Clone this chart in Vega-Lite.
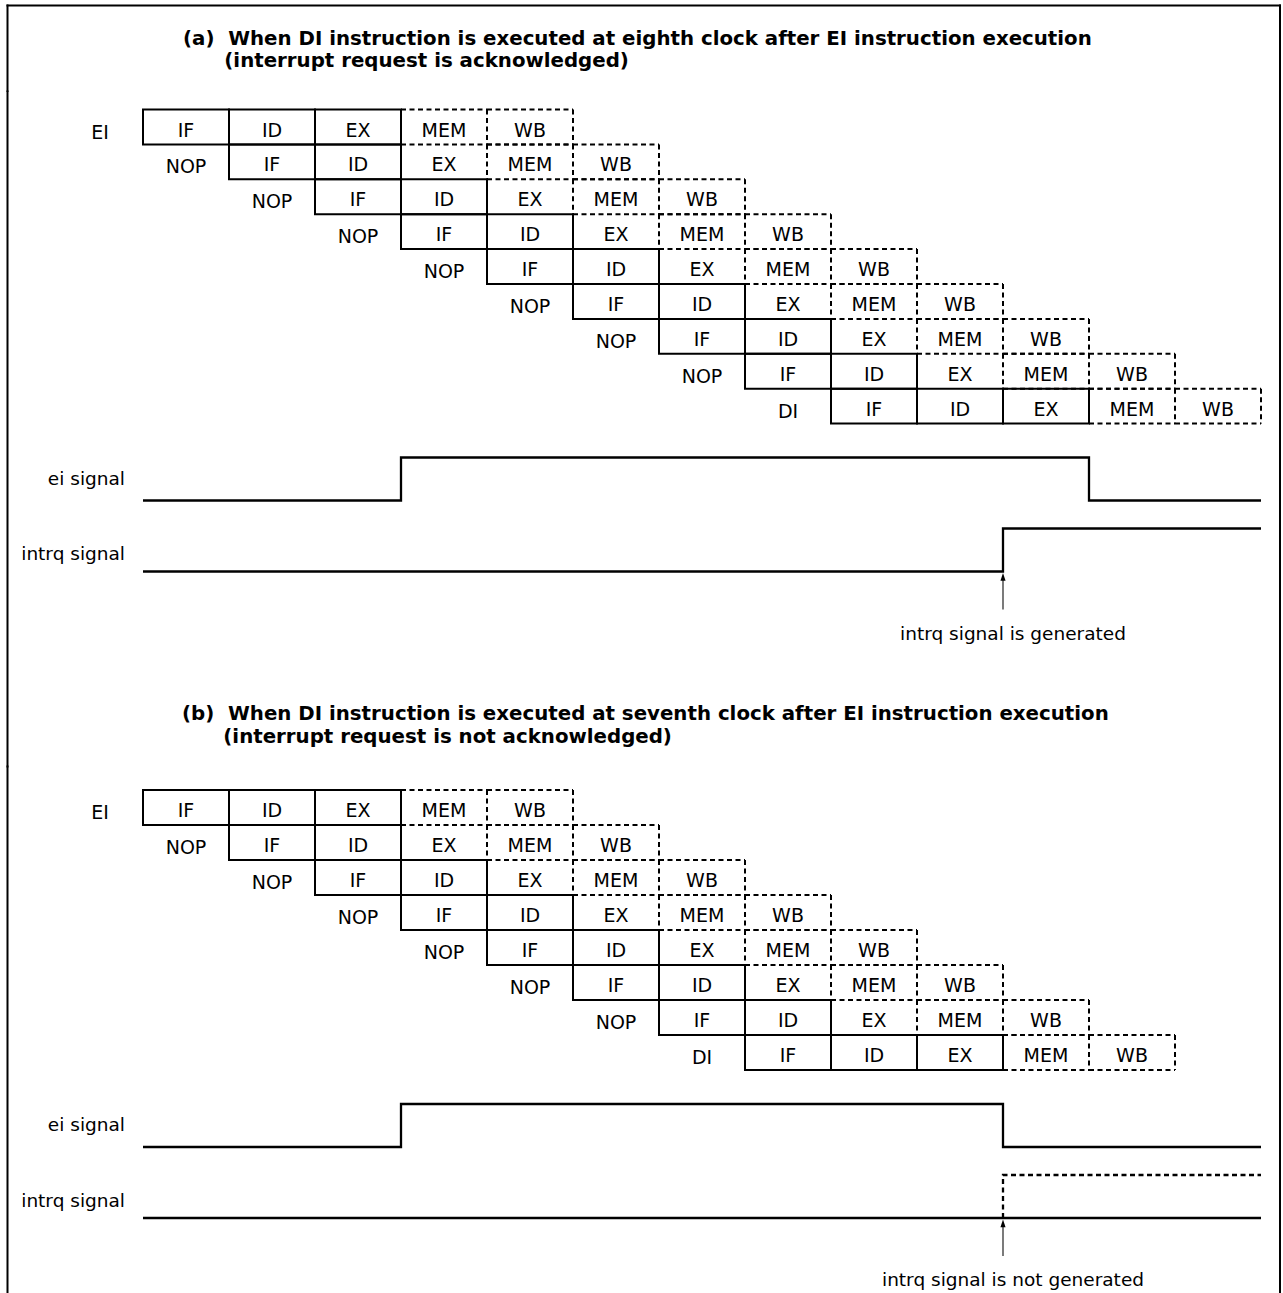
{
  "$schema": "https://vega.github.io/schema/vega-lite/v6.json",
  "background": "white",
  "padding": {"top": 3.5, "left": 0, "right": 0, "bottom": 0},
  "spacing": 0,
  "bounds": "flush",
  "config": {"view": {"stroke": null}},
  "datasets": {
    "cells": [
      {"p":"a","i":"EI","r0":0,"r1":1,"s":"IF","t0":0,"t1":1},
      {"p":"a","i":"EI","r0":0,"r1":1,"s":"ID","t0":1,"t1":2},
      {"p":"a","i":"EI","r0":0,"r1":1,"s":"EX","t0":2,"t1":3},
      {"p":"a","i":"EI","r0":0,"r1":1,"s":"MEM","t0":3,"t1":4},
      {"p":"a","i":"EI","r0":0,"r1":1,"s":"WB","t0":4,"t1":5},
      {"p":"a","i":"NOP","r0":1,"r1":2,"s":"IF","t0":1,"t1":2},
      {"p":"a","i":"NOP","r0":1,"r1":2,"s":"ID","t0":2,"t1":3},
      {"p":"a","i":"NOP","r0":1,"r1":2,"s":"EX","t0":3,"t1":4},
      {"p":"a","i":"NOP","r0":1,"r1":2,"s":"MEM","t0":4,"t1":5},
      {"p":"a","i":"NOP","r0":1,"r1":2,"s":"WB","t0":5,"t1":6},
      {"p":"a","i":"NOP","r0":2,"r1":3,"s":"IF","t0":2,"t1":3},
      {"p":"a","i":"NOP","r0":2,"r1":3,"s":"ID","t0":3,"t1":4},
      {"p":"a","i":"NOP","r0":2,"r1":3,"s":"EX","t0":4,"t1":5},
      {"p":"a","i":"NOP","r0":2,"r1":3,"s":"MEM","t0":5,"t1":6},
      {"p":"a","i":"NOP","r0":2,"r1":3,"s":"WB","t0":6,"t1":7},
      {"p":"a","i":"NOP","r0":3,"r1":4,"s":"IF","t0":3,"t1":4},
      {"p":"a","i":"NOP","r0":3,"r1":4,"s":"ID","t0":4,"t1":5},
      {"p":"a","i":"NOP","r0":3,"r1":4,"s":"EX","t0":5,"t1":6},
      {"p":"a","i":"NOP","r0":3,"r1":4,"s":"MEM","t0":6,"t1":7},
      {"p":"a","i":"NOP","r0":3,"r1":4,"s":"WB","t0":7,"t1":8},
      {"p":"a","i":"NOP","r0":4,"r1":5,"s":"IF","t0":4,"t1":5},
      {"p":"a","i":"NOP","r0":4,"r1":5,"s":"ID","t0":5,"t1":6},
      {"p":"a","i":"NOP","r0":4,"r1":5,"s":"EX","t0":6,"t1":7},
      {"p":"a","i":"NOP","r0":4,"r1":5,"s":"MEM","t0":7,"t1":8},
      {"p":"a","i":"NOP","r0":4,"r1":5,"s":"WB","t0":8,"t1":9},
      {"p":"a","i":"NOP","r0":5,"r1":6,"s":"IF","t0":5,"t1":6},
      {"p":"a","i":"NOP","r0":5,"r1":6,"s":"ID","t0":6,"t1":7},
      {"p":"a","i":"NOP","r0":5,"r1":6,"s":"EX","t0":7,"t1":8},
      {"p":"a","i":"NOP","r0":5,"r1":6,"s":"MEM","t0":8,"t1":9},
      {"p":"a","i":"NOP","r0":5,"r1":6,"s":"WB","t0":9,"t1":10},
      {"p":"a","i":"NOP","r0":6,"r1":7,"s":"IF","t0":6,"t1":7},
      {"p":"a","i":"NOP","r0":6,"r1":7,"s":"ID","t0":7,"t1":8},
      {"p":"a","i":"NOP","r0":6,"r1":7,"s":"EX","t0":8,"t1":9},
      {"p":"a","i":"NOP","r0":6,"r1":7,"s":"MEM","t0":9,"t1":10},
      {"p":"a","i":"NOP","r0":6,"r1":7,"s":"WB","t0":10,"t1":11},
      {"p":"a","i":"NOP","r0":7,"r1":8,"s":"IF","t0":7,"t1":8},
      {"p":"a","i":"NOP","r0":7,"r1":8,"s":"ID","t0":8,"t1":9},
      {"p":"a","i":"NOP","r0":7,"r1":8,"s":"EX","t0":9,"t1":10},
      {"p":"a","i":"NOP","r0":7,"r1":8,"s":"MEM","t0":10,"t1":11},
      {"p":"a","i":"NOP","r0":7,"r1":8,"s":"WB","t0":11,"t1":12},
      {"p":"a","i":"DI","r0":8,"r1":9,"s":"IF","t0":8,"t1":9},
      {"p":"a","i":"DI","r0":8,"r1":9,"s":"ID","t0":9,"t1":10},
      {"p":"a","i":"DI","r0":8,"r1":9,"s":"EX","t0":10,"t1":11},
      {"p":"a","i":"DI","r0":8,"r1":9,"s":"MEM","t0":11,"t1":12},
      {"p":"a","i":"DI","r0":8,"r1":9,"s":"WB","t0":12,"t1":13},
      {"p":"b","i":"EI","r0":0,"r1":1,"s":"IF","t0":0,"t1":1},
      {"p":"b","i":"EI","r0":0,"r1":1,"s":"ID","t0":1,"t1":2},
      {"p":"b","i":"EI","r0":0,"r1":1,"s":"EX","t0":2,"t1":3},
      {"p":"b","i":"EI","r0":0,"r1":1,"s":"MEM","t0":3,"t1":4},
      {"p":"b","i":"EI","r0":0,"r1":1,"s":"WB","t0":4,"t1":5},
      {"p":"b","i":"NOP","r0":1,"r1":2,"s":"IF","t0":1,"t1":2},
      {"p":"b","i":"NOP","r0":1,"r1":2,"s":"ID","t0":2,"t1":3},
      {"p":"b","i":"NOP","r0":1,"r1":2,"s":"EX","t0":3,"t1":4},
      {"p":"b","i":"NOP","r0":1,"r1":2,"s":"MEM","t0":4,"t1":5},
      {"p":"b","i":"NOP","r0":1,"r1":2,"s":"WB","t0":5,"t1":6},
      {"p":"b","i":"NOP","r0":2,"r1":3,"s":"IF","t0":2,"t1":3},
      {"p":"b","i":"NOP","r0":2,"r1":3,"s":"ID","t0":3,"t1":4},
      {"p":"b","i":"NOP","r0":2,"r1":3,"s":"EX","t0":4,"t1":5},
      {"p":"b","i":"NOP","r0":2,"r1":3,"s":"MEM","t0":5,"t1":6},
      {"p":"b","i":"NOP","r0":2,"r1":3,"s":"WB","t0":6,"t1":7},
      {"p":"b","i":"NOP","r0":3,"r1":4,"s":"IF","t0":3,"t1":4},
      {"p":"b","i":"NOP","r0":3,"r1":4,"s":"ID","t0":4,"t1":5},
      {"p":"b","i":"NOP","r0":3,"r1":4,"s":"EX","t0":5,"t1":6},
      {"p":"b","i":"NOP","r0":3,"r1":4,"s":"MEM","t0":6,"t1":7},
      {"p":"b","i":"NOP","r0":3,"r1":4,"s":"WB","t0":7,"t1":8},
      {"p":"b","i":"NOP","r0":4,"r1":5,"s":"IF","t0":4,"t1":5},
      {"p":"b","i":"NOP","r0":4,"r1":5,"s":"ID","t0":5,"t1":6},
      {"p":"b","i":"NOP","r0":4,"r1":5,"s":"EX","t0":6,"t1":7},
      {"p":"b","i":"NOP","r0":4,"r1":5,"s":"MEM","t0":7,"t1":8},
      {"p":"b","i":"NOP","r0":4,"r1":5,"s":"WB","t0":8,"t1":9},
      {"p":"b","i":"NOP","r0":5,"r1":6,"s":"IF","t0":5,"t1":6},
      {"p":"b","i":"NOP","r0":5,"r1":6,"s":"ID","t0":6,"t1":7},
      {"p":"b","i":"NOP","r0":5,"r1":6,"s":"EX","t0":7,"t1":8},
      {"p":"b","i":"NOP","r0":5,"r1":6,"s":"MEM","t0":8,"t1":9},
      {"p":"b","i":"NOP","r0":5,"r1":6,"s":"WB","t0":9,"t1":10},
      {"p":"b","i":"NOP","r0":6,"r1":7,"s":"IF","t0":6,"t1":7},
      {"p":"b","i":"NOP","r0":6,"r1":7,"s":"ID","t0":7,"t1":8},
      {"p":"b","i":"NOP","r0":6,"r1":7,"s":"EX","t0":8,"t1":9},
      {"p":"b","i":"NOP","r0":6,"r1":7,"s":"MEM","t0":9,"t1":10},
      {"p":"b","i":"NOP","r0":6,"r1":7,"s":"WB","t0":10,"t1":11},
      {"p":"b","i":"DI","r0":7,"r1":8,"s":"IF","t0":7,"t1":8},
      {"p":"b","i":"DI","r0":7,"r1":8,"s":"ID","t0":8,"t1":9},
      {"p":"b","i":"DI","r0":7,"r1":8,"s":"EX","t0":9,"t1":10},
      {"p":"b","i":"DI","r0":7,"r1":8,"s":"MEM","t0":10,"t1":11},
      {"p":"b","i":"DI","r0":7,"r1":8,"s":"WB","t0":11,"t1":12}
    ],
    "signals": [
      {"p":"a","sig":"ei","name":"ei signal","state":"actual","k":0,"t":0,"level":0},
      {"p":"a","sig":"ei","name":"ei signal","state":"actual","k":1,"t":3,"level":1},
      {"p":"a","sig":"ei","name":"ei signal","state":"actual","k":2,"t":11,"level":0},
      {"p":"a","sig":"ei","name":"ei signal","state":"actual","k":3,"t":13,"level":0},
      {"p":"a","sig":"intrq","name":"intrq signal","state":"actual","k":0,"t":0,"level":0},
      {"p":"a","sig":"intrq","name":"intrq signal","state":"actual","k":1,"t":10,"level":1},
      {"p":"a","sig":"intrq","name":"intrq signal","state":"actual","k":2,"t":13,"level":1},
      {"p":"b","sig":"ei","name":"ei signal","state":"actual","k":0,"t":0,"level":0},
      {"p":"b","sig":"ei","name":"ei signal","state":"actual","k":1,"t":3,"level":1},
      {"p":"b","sig":"ei","name":"ei signal","state":"actual","k":2,"t":10,"level":0},
      {"p":"b","sig":"ei","name":"ei signal","state":"actual","k":3,"t":13,"level":0},
      {"p":"b","sig":"intrq","name":"intrq signal","state":"actual","k":0,"t":0,"level":0},
      {"p":"b","sig":"intrq","name":"intrq signal","state":"actual","k":1,"t":13,"level":0},
      {"p":"b","sig":"intrq","name":"intrq signal","state":"not generated","k":0,"t":10,"level":0},
      {"p":"b","sig":"intrq","name":"intrq signal","state":"not generated","k":1,"t":10,"level":1},
      {"p":"b","sig":"intrq","name":"intrq signal","state":"not generated","k":2,"t":13,"level":1}
    ],
    "notes": [
      {"p":"a","t":10,"text":"intrq signal is generated"},
      {"p":"b","t":10,"text":"intrq signal is not generated"}
    ]
  },
  "vconcat": [
    {
      "width": 1283,
      "height": 85.5,
      "data": {"values": [{}]},
      "layer": [
        {"mark": {"type":"rule","color":"black","strokeWidth":2,"strokeCap":"square"},
         "encoding": {"x":{"datum":-1.5756,"type":"quantitative","scale":{"domain":[-1.6628,13.2558],"nice":false,"zero":false},"axis":null},"x2":{"datum":13.2209},"y":{"datum":1,"type":"quantitative","scale":{"domain":[0,1]},"axis":null}}},
        {"mark": {"type":"rule","color":"black","strokeWidth":2,"strokeCap":"square"},
         "encoding": {"x":{"datum":-1.5756,"type":"quantitative","scale":{"domain":[-1.6628,13.2558],"nice":false,"zero":false},"axis":null},"y":{"datum":0,"type":"quantitative","scale":{"domain":[0,1]},"axis":null},"y2":{"datum":1}}},
        {"mark": {"type":"rule","color":"black","strokeWidth":2,"strokeCap":"square"},
         "encoding": {"x":{"datum":13.2209,"type":"quantitative","scale":{"domain":[-1.6628,13.2558],"nice":false,"zero":false},"axis":null},"y":{"datum":0,"type":"quantitative","scale":{"domain":[0,1]},"axis":null},"y2":{"datum":1}}}
      ]
    },
    {
      "width": 1283,
      "height": 675,
      "title": {"text": ["(a)\u00a0 When DI instruction is executed at eighth clock after EI instruction execution", "\u200b\u00a0\u00a0\u00a0\u00a0\u00a0\u00a0(interrupt request is acknowledged)"], "anchor":"start","frame":"group","dx":183,"offset":3,"baseline":"alphabetic","font":"DejaVu Sans","fontSize":19.8,"fontWeight":"bold","lineHeight":22.5,"color":"black"},
      "resolve": {"scale": {"y": "independent"}},
      "layer": [
        {"data":{"name":"cells"},
         "transform":[{"filter":"datum.p=='a' && (datum.s=='IF' || datum.s=='ID' || (datum.s=='EX' && datum.i!='NOP'))"}],
         "mark":{"type":"rect","filled":false,"stroke":"black","strokeWidth":2},
         "encoding":{"x":{"field":"t0","type":"quantitative","scale":{"domain":[-1.6628,13.2558],"nice":false,"zero":false},"axis":null},"x2":{"field":"t1"},"y":{"field":"r0","type":"quantitative","scale":{"domain":[0,9],"range":[18,332.1],"nice":false,"zero":false},"axis":null},"y2":{"field":"r1"}}},
        {"data":{"name":"cells"},
         "transform":[{"filter":"datum.p=='a' && (datum.s=='MEM' || datum.s=='WB')"}],
         "mark":{"type":"rule","color":"black","strokeWidth":2,"strokeDash":[5,3.5]},
         "encoding":{"x":{"field":"t0","type":"quantitative","scale":{"domain":[-1.6628,13.2558],"nice":false,"zero":false},"axis":null},"x2":{"field":"t1"},"y":{"field":"r0","type":"quantitative","scale":{"domain":[0,9],"range":[18,332.1],"nice":false,"zero":false},"axis":null}}},
        {"data":{"name":"cells"},
         "transform":[{"filter":"datum.p=='a' && (datum.s=='MEM' || datum.s=='WB')"}],
         "mark":{"type":"rule","color":"black","strokeWidth":2,"strokeDash":[5,3.5]},
         "encoding":{"x":{"field":"t0","type":"quantitative","scale":{"domain":[-1.6628,13.2558],"nice":false,"zero":false},"axis":null},"x2":{"field":"t1"},"y":{"field":"r1","type":"quantitative","scale":{"domain":[0,9],"range":[18,332.1],"nice":false,"zero":false},"axis":null}}},
        {"data":{"name":"cells"},
         "transform":[{"filter":"datum.p=='a' && (datum.s=='MEM' || datum.s=='WB')"}],
         "mark":{"type":"rule","color":"black","strokeWidth":2,"strokeDash":[5,3.5]},
         "encoding":{"x":{"field":"t1","type":"quantitative","scale":{"domain":[-1.6628,13.2558],"nice":false,"zero":false},"axis":null},"y":{"field":"r0","type":"quantitative","scale":{"domain":[0,9],"range":[18,332.1],"nice":false,"zero":false},"axis":null},"y2":{"field":"r1"}}},
        {"data":{"name":"cells"},
         "transform":[{"filter":"datum.p=='a' && datum.s=='MEM'"}],
         "mark":{"type":"rule","color":"black","strokeWidth":2,"strokeDash":[5,3.5]},
         "encoding":{"x":{"field":"t0","type":"quantitative","scale":{"domain":[-1.6628,13.2558],"nice":false,"zero":false},"axis":null},"y":{"field":"r0","type":"quantitative","scale":{"domain":[0,9],"range":[18,332.1],"nice":false,"zero":false},"axis":null},"y2":{"field":"r1"}}},
        {"data":{"name":"cells"},
         "transform":[{"filter":"datum.p=='a'"}],
         "mark":{"type":"text","align":"center","baseline":"middle","dx":43,"dy":21,"font":"DejaVu Sans","fontSize":19,"color":"black"},
         "encoding":{"x":{"field":"t0","type":"quantitative","scale":{"domain":[-1.6628,13.2558],"nice":false,"zero":false},"axis":null},"y":{"field":"r0","type":"quantitative","scale":{"domain":[0,9],"range":[18,332.1],"nice":false,"zero":false},"axis":null},"text":{"field":"s"}}},
        {"data":{"name":"cells"},
         "transform":[{"filter":"datum.p=='a' && datum.s=='IF'"}],
         "mark":{"type":"text","align":"center","baseline":"middle","dx":-43,"dy":23,"font":"DejaVu Sans","fontSize":19,"color":"black"},
         "encoding":{"x":{"field":"t0","type":"quantitative","scale":{"domain":[-1.6628,13.2558],"nice":false,"zero":false},"axis":null},"y":{"field":"r0","type":"quantitative","scale":{"domain":[0,9],"range":[18,332.1],"nice":false,"zero":false},"axis":null},"text":{"field":"i"}}},
        {"data":{"name":"signals"},
         "transform":[{"filter":"datum.p=='a' && datum.sig=='ei'"}],
         "mark":{"type":"line","interpolate":"step-after","color":"black","strokeWidth":2.3},
         "encoding":{"x":{"field":"t","type":"quantitative","scale":{"domain":[-1.6628,13.2558],"nice":false,"zero":false},"axis":null},"y":{"field":"level","type":"quantitative","scale":{"domain":[0,1],"range":[409,366],"nice":false,"zero":false},"axis":null},"order":{"field":"k"}}},
        {"data":{"name":"signals"},
         "transform":[{"filter":"datum.p=='a' && datum.sig=='ei' && datum.k==0 && datum.t==0"}],
         "mark":{"type":"text","align":"right","baseline":"alphabetic","dx":-18,"dy":5.5,"font":"DejaVu Sans","fontSize":18.5,"color":"black"},
         "encoding":{"x":{"field":"t","type":"quantitative","scale":{"domain":[-1.6628,13.2558],"nice":false,"zero":false},"axis":null},"y":{"datum":0.5,"type":"quantitative","scale":{"domain":[0,1],"range":[409,366],"nice":false,"zero":false},"axis":null},"text":{"field":"name"}}},
        {"data":{"name":"signals"},
         "transform":[{"filter":"datum.p=='a' && datum.sig=='intrq'"}],
         "mark":{"type":"line","interpolate":"step-after","color":"black","strokeWidth":2.3},
         "encoding":{"x":{"field":"t","type":"quantitative","scale":{"domain":[-1.6628,13.2558],"nice":false,"zero":false},"axis":null},"y":{"field":"level","type":"quantitative","scale":{"domain":[0,1],"range":[480,437],"nice":false,"zero":false},"axis":null},"order":{"field":"k"}}},
        {"data":{"name":"signals"},
         "transform":[{"filter":"datum.p=='a' && datum.sig=='intrq' && datum.k==0 && datum.t==0"}],
         "mark":{"type":"text","align":"right","baseline":"alphabetic","dx":-18,"dy":10,"font":"DejaVu Sans","fontSize":18.5,"color":"black"},
         "encoding":{"x":{"field":"t","type":"quantitative","scale":{"domain":[-1.6628,13.2558],"nice":false,"zero":false},"axis":null},"y":{"datum":0.5,"type":"quantitative","scale":{"domain":[0,1],"range":[480,437],"nice":false,"zero":false},"axis":null},"text":{"field":"name"}}},
        {"data":{"name":"notes"},
         "transform":[{"filter":"datum.p=='a'"}],
         "mark":{"type":"rule","color":"#222","strokeWidth":1.2},
         "encoding":{"x":{"field":"t","type":"quantitative","scale":{"domain":[-1.6628,13.2558],"nice":false,"zero":false},"axis":null},"y":{"datum":-0.884,"type":"quantitative","scale":{"domain":[0,1],"range":[480,437],"nice":false,"zero":false},"axis":null},"y2":{"datum":-0.16}}},
        {"data":{"name":"notes"},
         "transform":[{"filter":"datum.p=='a'"}],
         "mark":{"type":"point","shape":"M0,-1.3L0.85,1.3L-0.85,1.3Z","filled":true,"color":"black","size":36,"opacity":1},
         "encoding":{"x":{"field":"t","type":"quantitative","scale":{"domain":[-1.6628,13.2558],"nice":false,"zero":false},"axis":null},"y":{"datum":-0.1256,"type":"quantitative","scale":{"domain":[0,1],"range":[480,437],"nice":false,"zero":false},"axis":null}}},
        {"data":{"name":"notes"},
         "transform":[{"filter":"datum.p=='a'"}],
         "mark":{"type":"text","align":"center","baseline":"alphabetic","dx":10,"font":"DejaVu Sans","fontSize":18.5,"color":"black"},
         "encoding":{"x":{"field":"t","type":"quantitative","scale":{"domain":[-1.6628,13.2558],"nice":false,"zero":false},"axis":null},"y":{"datum":-1.588,"type":"quantitative","scale":{"domain":[0,1],"range":[480,437],"nice":false,"zero":false},"axis":null},"text":{"field":"text"}}},
        {"data":{"values":[{}]},
         "mark":{"type":"rule","color":"black","strokeWidth":2,"strokeCap":"square"},
         "encoding":{"x":{"datum":-1.5756,"type":"quantitative","scale":{"domain":[-1.6628,13.2558],"nice":false,"zero":false},"axis":null},"y":{"datum":0,"type":"quantitative","scale":{"domain":[0,1]},"axis":null},"y2":{"datum":1}}},
        {"data":{"values":[{}]},
         "mark":{"type":"rule","color":"black","strokeWidth":2,"strokeCap":"square"},
         "encoding":{"x":{"datum":13.2209,"type":"quantitative","scale":{"domain":[-1.6628,13.2558],"nice":false,"zero":false},"axis":null},"y":{"datum":0,"type":"quantitative","scale":{"domain":[0,1]},"axis":null},"y2":{"datum":1}}}
      ]
    },
    {
      "width": 1283,
      "height": 528,
      "title": {"text": ["(b)\u00a0 When DI instruction is executed at seventh clock after EI instruction execution", "\u200b\u00a0\u00a0\u00a0\u00a0\u00a0\u00a0(interrupt request is not acknowledged)"], "anchor":"start","frame":"group","dx":182,"offset":2,"baseline":"alphabetic","font":"DejaVu Sans","fontSize":19.8,"fontWeight":"bold","lineHeight":23,"color":"black"},
      "resolve": {"scale": {"y": "independent"}},
      "layer": [
        {"data":{"name":"cells"},
         "transform":[{"filter":"datum.p=='b' && (datum.s=='IF' || datum.s=='ID' || (datum.s=='EX' && datum.i!='NOP'))"}],
         "mark":{"type":"rect","filled":false,"stroke":"black","strokeWidth":2},
         "encoding":{"x":{"field":"t0","type":"quantitative","scale":{"domain":[-1.6628,13.2558],"nice":false,"zero":false},"axis":null},"x2":{"field":"t1"},"y":{"field":"r0","type":"quantitative","scale":{"domain":[0,8],"range":[23.5,303.5],"nice":false,"zero":false},"axis":null},"y2":{"field":"r1"}}},
        {"data":{"name":"cells"},
         "transform":[{"filter":"datum.p=='b' && (datum.s=='MEM' || datum.s=='WB')"}],
         "mark":{"type":"rule","color":"black","strokeWidth":2,"strokeDash":[5,3.5]},
         "encoding":{"x":{"field":"t0","type":"quantitative","scale":{"domain":[-1.6628,13.2558],"nice":false,"zero":false},"axis":null},"x2":{"field":"t1"},"y":{"field":"r0","type":"quantitative","scale":{"domain":[0,8],"range":[23.5,303.5],"nice":false,"zero":false},"axis":null}}},
        {"data":{"name":"cells"},
         "transform":[{"filter":"datum.p=='b' && (datum.s=='MEM' || datum.s=='WB')"}],
         "mark":{"type":"rule","color":"black","strokeWidth":2,"strokeDash":[5,3.5]},
         "encoding":{"x":{"field":"t0","type":"quantitative","scale":{"domain":[-1.6628,13.2558],"nice":false,"zero":false},"axis":null},"x2":{"field":"t1"},"y":{"field":"r1","type":"quantitative","scale":{"domain":[0,8],"range":[23.5,303.5],"nice":false,"zero":false},"axis":null}}},
        {"data":{"name":"cells"},
         "transform":[{"filter":"datum.p=='b' && (datum.s=='MEM' || datum.s=='WB')"}],
         "mark":{"type":"rule","color":"black","strokeWidth":2,"strokeDash":[5,3.5]},
         "encoding":{"x":{"field":"t1","type":"quantitative","scale":{"domain":[-1.6628,13.2558],"nice":false,"zero":false},"axis":null},"y":{"field":"r0","type":"quantitative","scale":{"domain":[0,8],"range":[23.5,303.5],"nice":false,"zero":false},"axis":null},"y2":{"field":"r1"}}},
        {"data":{"name":"cells"},
         "transform":[{"filter":"datum.p=='b' && datum.s=='MEM'"}],
         "mark":{"type":"rule","color":"black","strokeWidth":2,"strokeDash":[5,3.5]},
         "encoding":{"x":{"field":"t0","type":"quantitative","scale":{"domain":[-1.6628,13.2558],"nice":false,"zero":false},"axis":null},"y":{"field":"r0","type":"quantitative","scale":{"domain":[0,8],"range":[23.5,303.5],"nice":false,"zero":false},"axis":null},"y2":{"field":"r1"}}},
        {"data":{"name":"cells"},
         "transform":[{"filter":"datum.p=='b'"}],
         "mark":{"type":"text","align":"center","baseline":"middle","dx":43,"dy":21,"font":"DejaVu Sans","fontSize":19,"color":"black"},
         "encoding":{"x":{"field":"t0","type":"quantitative","scale":{"domain":[-1.6628,13.2558],"nice":false,"zero":false},"axis":null},"y":{"field":"r0","type":"quantitative","scale":{"domain":[0,8],"range":[23.5,303.5],"nice":false,"zero":false},"axis":null},"text":{"field":"s"}}},
        {"data":{"name":"cells"},
         "transform":[{"filter":"datum.p=='b' && datum.s=='IF'"}],
         "mark":{"type":"text","align":"center","baseline":"middle","dx":-43,"dy":23,"font":"DejaVu Sans","fontSize":19,"color":"black"},
         "encoding":{"x":{"field":"t0","type":"quantitative","scale":{"domain":[-1.6628,13.2558],"nice":false,"zero":false},"axis":null},"y":{"field":"r0","type":"quantitative","scale":{"domain":[0,8],"range":[23.5,303.5],"nice":false,"zero":false},"axis":null},"text":{"field":"i"}}},
        {"data":{"name":"signals"},
         "transform":[{"filter":"datum.p=='b' && datum.sig=='ei'"}],
         "mark":{"type":"line","interpolate":"step-after","color":"black","strokeWidth":2.3},
         "encoding":{"x":{"field":"t","type":"quantitative","scale":{"domain":[-1.6628,13.2558],"nice":false,"zero":false},"axis":null},"y":{"field":"level","type":"quantitative","scale":{"domain":[0,1],"range":[380.5,337.5],"nice":false,"zero":false},"axis":null},"order":{"field":"k"}}},
        {"data":{"name":"signals"},
         "transform":[{"filter":"datum.p=='b' && datum.sig=='ei' && datum.k==0 && datum.t==0"}],
         "mark":{"type":"text","align":"right","baseline":"alphabetic","dx":-18,"dy":5.5,"font":"DejaVu Sans","fontSize":18.5,"color":"black"},
         "encoding":{"x":{"field":"t","type":"quantitative","scale":{"domain":[-1.6628,13.2558],"nice":false,"zero":false},"axis":null},"y":{"datum":0.5,"type":"quantitative","scale":{"domain":[0,1],"range":[380.5,337.5],"nice":false,"zero":false},"axis":null},"text":{"field":"name"}}},
        {"data":{"name":"signals"},
         "transform":[{"filter":"datum.p=='b' && datum.sig=='intrq'"}],
         "mark":{"type":"line","interpolate":"step-after","color":"black","strokeWidth":2.3},
         "encoding":{"x":{"field":"t","type":"quantitative","scale":{"domain":[-1.6628,13.2558],"nice":false,"zero":false},"axis":null},"y":{"field":"level","type":"quantitative","scale":{"domain":[0,1],"range":[451.5,408.5],"nice":false,"zero":false},"axis":null},"order":{"field":"k"},"strokeDash":{"field":"state","type":"nominal","scale":{"domain":["actual","not generated"],"range":[[1,0],[5,3.5]]},"legend":null}}},
        {"data":{"name":"signals"},
         "transform":[{"filter":"datum.p=='b' && datum.sig=='intrq' && datum.k==0 && datum.t==0"}],
         "mark":{"type":"text","align":"right","baseline":"alphabetic","dx":-18,"dy":10,"font":"DejaVu Sans","fontSize":18.5,"color":"black"},
         "encoding":{"x":{"field":"t","type":"quantitative","scale":{"domain":[-1.6628,13.2558],"nice":false,"zero":false},"axis":null},"y":{"datum":0.5,"type":"quantitative","scale":{"domain":[0,1],"range":[451.5,408.5],"nice":false,"zero":false},"axis":null},"text":{"field":"name"}}},
        {"data":{"name":"notes"},
         "transform":[{"filter":"datum.p=='b'"}],
         "mark":{"type":"rule","color":"#222","strokeWidth":1.2},
         "encoding":{"x":{"field":"t","type":"quantitative","scale":{"domain":[-1.6628,13.2558],"nice":false,"zero":false},"axis":null},"y":{"datum":-0.884,"type":"quantitative","scale":{"domain":[0,1],"range":[451.5,408.5],"nice":false,"zero":false},"axis":null},"y2":{"datum":-0.16}}},
        {"data":{"name":"notes"},
         "transform":[{"filter":"datum.p=='b'"}],
         "mark":{"type":"point","shape":"M0,-1.3L0.85,1.3L-0.85,1.3Z","filled":true,"color":"black","size":36,"opacity":1},
         "encoding":{"x":{"field":"t","type":"quantitative","scale":{"domain":[-1.6628,13.2558],"nice":false,"zero":false},"axis":null},"y":{"datum":-0.1256,"type":"quantitative","scale":{"domain":[0,1],"range":[451.5,408.5],"nice":false,"zero":false},"axis":null}}},
        {"data":{"name":"notes"},
         "transform":[{"filter":"datum.p=='b'"}],
         "mark":{"type":"text","align":"center","baseline":"alphabetic","dx":10,"font":"DejaVu Sans","fontSize":18.5,"color":"black"},
         "encoding":{"x":{"field":"t","type":"quantitative","scale":{"domain":[-1.6628,13.2558],"nice":false,"zero":false},"axis":null},"y":{"datum":-1.588,"type":"quantitative","scale":{"domain":[0,1],"range":[451.5,408.5],"nice":false,"zero":false},"axis":null},"text":{"field":"text"}}},
        {"data":{"values":[{}]},
         "mark":{"type":"rule","color":"black","strokeWidth":2,"strokeCap":"square"},
         "encoding":{"x":{"datum":-1.5756,"type":"quantitative","scale":{"domain":[-1.6628,13.2558],"nice":false,"zero":false},"axis":null},"y":{"datum":0,"type":"quantitative","scale":{"domain":[0,1]},"axis":null},"y2":{"datum":1}}},
        {"data":{"values":[{}]},
         "mark":{"type":"rule","color":"black","strokeWidth":2,"strokeCap":"square"},
         "encoding":{"x":{"datum":13.2209,"type":"quantitative","scale":{"domain":[-1.6628,13.2558],"nice":false,"zero":false},"axis":null},"y":{"datum":0,"type":"quantitative","scale":{"domain":[0,1]},"axis":null},"y2":{"datum":1}}}
      ]
    }
  ]
}
